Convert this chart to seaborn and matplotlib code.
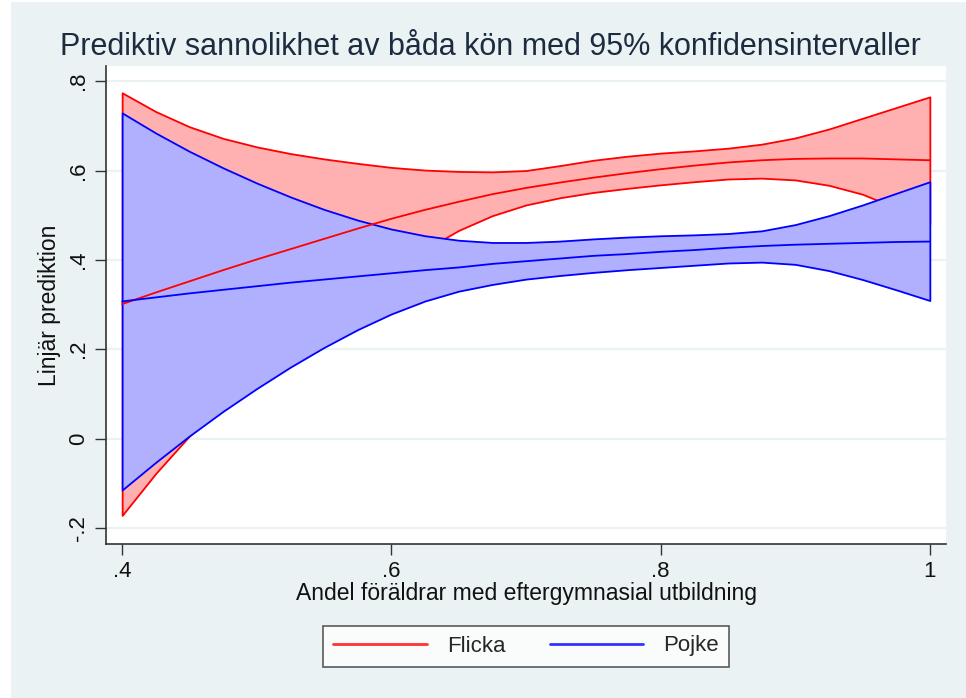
import numpy as np
import pandas as pd
import matplotlib
matplotlib.use("Agg")
import matplotlib.pyplot as plt
from matplotlib.patches import Rectangle
import seaborn as sns

# andel foraldrar med eftergymnasial utbildning
x = [0.400, 0.425, 0.450, 0.475, 0.500, 0.525, 0.550, 0.575, 0.600, 0.625, 0.650, 0.675, 0.700,
     0.725, 0.750, 0.775, 0.800, 0.825, 0.850, 0.875, 0.900, 0.925, 0.950, 0.975, 1.000]

flicka_mean = [0.301, 0.327, 0.352, 0.377, 0.401, 0.424, 0.447, 0.470, 0.492, 0.512, 0.530, 0.547, 0.561,
               0.573, 0.584, 0.594, 0.603, 0.611, 0.618, 0.623, 0.626, 0.627, 0.627, 0.625, 0.623]
flicka_hi = [0.774, 0.732, 0.698, 0.672, 0.653, 0.638, 0.626, 0.616, 0.607, 0.601, 0.598, 0.597, 0.600,
             0.611, 0.623, 0.632, 0.639, 0.644, 0.650, 0.659, 0.673, 0.693, 0.717, 0.741, 0.765]
flicka_lo = [-0.172, -0.078, 0.006, 0.082, 0.149, 0.210, 0.268, 0.324, 0.377, 0.423, 0.466, 0.499, 0.523,
             0.539, 0.551, 0.560, 0.568, 0.575, 0.581, 0.583, 0.579, 0.567, 0.547, 0.516, 0.481]

pojke_mean = [0.307, 0.316, 0.325, 0.333, 0.341, 0.349, 0.356, 0.363, 0.370, 0.377, 0.383, 0.391, 0.397,
              0.403, 0.409, 0.413, 0.418, 0.422, 0.427, 0.431, 0.434, 0.436, 0.438, 0.440, 0.441]
pojke_hi = [0.729, 0.684, 0.643, 0.606, 0.572, 0.541, 0.513, 0.489, 0.469, 0.454, 0.444, 0.439, 0.439,
            0.442, 0.447, 0.451, 0.454, 0.456, 0.459, 0.465, 0.479, 0.499, 0.523, 0.549, 0.575]
pojke_lo = [-0.115, -0.053, 0.006, 0.061, 0.112, 0.160, 0.204, 0.244, 0.279, 0.308, 0.330, 0.345, 0.357,
            0.365, 0.372, 0.378, 0.383, 0.388, 0.393, 0.395, 0.390, 0.376, 0.356, 0.333, 0.309]

y_ticks = [-0.2, 0, 0.2, 0.4, 0.6, 0.8]
y_ticklabels = ["-.2", "0", ".2", ".4", ".6", ".8"]
x_ticks = [0.4, 0.6, 0.8, 1.0]
x_ticklabels = [".4", ".6", ".8", "1"]

BG = "#eaf2f3"
df = pd.DataFrame({
    "x": x * 2,
    "pred": flicka_mean + pojke_mean,
    "kon": ["Flicka"] * len(x) + ["Pojke"] * len(x),
})

sns.set_theme(style="white")
plt.rcParams["font.family"] = ["Liberation Sans", "DejaVu Sans"]

fig = plt.figure(figsize=(9.66, 6.98), dpi=100, facecolor="white")
fig.patches.append(Rectangle((11 / 966, 0), 1, 1 - 2 / 698, transform=fig.transFigure,
                             facecolor=BG, edgecolor="none", zorder=-10))
ax = fig.add_axes([106 / 966, 1 - 544 / 698, 840 / 966, 478 / 698])
ax.set_facecolor("white")

for yt in y_ticks:
    ax.axhline(yt, color=BG, lw=1.6, zorder=0)

ax.fill_between(x, flicka_lo, flicka_hi, facecolor="#ffb0b0", edgecolor="#ff0000", lw=1.3, zorder=1)
ax.fill_between(x, pojke_lo, pojke_hi, facecolor="#b0b0ff", edgecolor="#0000ff", lw=1.3, zorder=2)
sns.lineplot(data=df, x="x", y="pred", hue="kon", palette={"Flicka": "#ff0000", "Pojke": "#0000ff"},
             lw=1.3, ax=ax, zorder=3, legend=False)

ax.set_xlim(0.388, 1.012)
ax.set_ylim(-0.236, 0.834)
ax.set_xticks(x_ticks, x_ticklabels)
ax.set_yticks(y_ticks, y_ticklabels)
ax.tick_params(axis="both", direction="out", length=8, width=1, color="#333333",
               labelsize=16, labelcolor="#111111", pad=4, left=True, bottom=True)
plt.setp(ax.get_yticklabels(), rotation=90, va="center")
for s in ["top", "right"]:
    ax.spines[s].set_visible(False)
for s in ["left", "bottom"]:
    ax.spines[s].set_color("#333333")
    ax.spines[s].set_linewidth(1.2)

ax.set_xlabel("Andel föräldrar med eftergymnasial utbildning", fontsize=16.5, color="#111111", labelpad=0)
ax.set_ylabel("Linjär prediktion", fontsize=16.5, color="#111111", labelpad=5)
fig.text(490 / 966, 1 - 47 / 698, "Prediktiv sannolikhet av båda kön med 95% konfidensintervaller",
         ha="center", va="center", fontsize=22, color="#1c2b3f")

handles = [plt.Line2D([], [], color="#ff3333", lw=2), plt.Line2D([], [], color="#3333ff", lw=2)]
leg = fig.legend(handles, ["Flicka", "Pojke"], loc="center", bbox_to_anchor=(526 / 966, 1 - 646 / 698),
                 ncol=2, fontsize=16, frameon=True, fancybox=False, handlelength=4.2,
                 columnspacing=2.0, borderpad=0.45, handletextpad=0.9)
leg.get_frame().set_edgecolor("#333333")
leg.get_frame().set_linewidth(1.2)

fig.savefig("out.png", dpi=100, facecolor=fig.get_facecolor())
